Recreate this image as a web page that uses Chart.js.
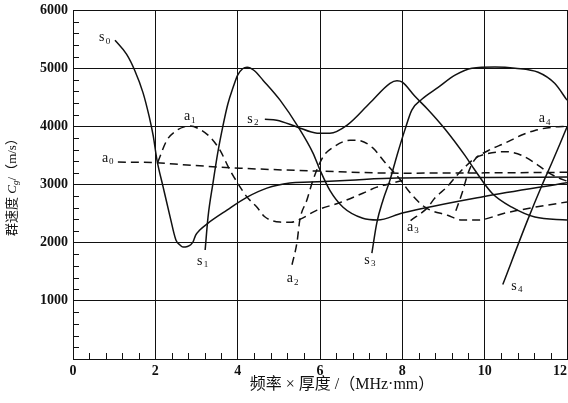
<!DOCTYPE html>
<html>
<head>
<meta charset="utf-8">
<script src="https://cdn.jsdelivr.net/npm/chart.js@4/dist/chart.umd.min.js"></script>
<style>
  html, body { margin: 0; padding: 0; background: #fff; }
  #wrap { width: 568px; height: 403px; }
</style>
</head>
<body>
<div id="wrap"><canvas id="c" width="568" height="403"></canvas></div>
<script>
// Group velocity dispersion curves of Lamb wave modes (symmetric s, antisymmetric a)
// x: frequency × thickness (MHz·mm), y: group velocity (m/s)

const xTicks = [0, 2, 4, 6, 8, 10, 12];
const yTicks = [1000, 2000, 3000, 4000, 5000, 6000];

const s0X = [1.02, 1.3, 1.5, 1.7, 1.85, 1.95, 2.04, 2.19, 2.36, 2.5, 2.6, 2.67, 2.78, 2.86, 2.92, 2.98, 3.08, 3.28, 3.74, 4.23, 4.71, 5.27, 5.76, 6.73, 7.87, 10, 12];
const s0Y = [5480, 5240, 4960, 4580, 4170, 3830, 3420, 2955, 2440, 2045, 1960, 1925, 1935, 1965, 2020, 2130, 2216, 2337, 2560, 2783, 2938, 3024, 3041, 3075, 3110, 3120, 3130];

const s1X = [3.21, 3.28, 3.4, 3.52, 3.64, 3.76, 3.89, 4.0, 4.12, 4.23, 4.4, 4.62, 5.03, 5.47, 5.83, 6.0, 6.24, 6.56, 7.04, 7.4, 8.0, 9.96, 12];
const s1Y = [1873, 2440, 3024, 3560, 4000, 4380, 4670, 4880, 4990, 5017, 4960, 4790, 4450, 3990, 3540, 3250, 2900, 2610, 2420, 2390, 2510, 2790, 3030];

const s2X = [4.66, 4.95, 5.44, 5.93, 6.24, 6.66, 7.21, 7.7, 7.87, 8.0, 8.3, 8.62, 9.04, 9.52, 9.76, 10.18, 10.66, 11.22, 12];
const s2Y = [4120, 4105, 3990, 3883, 3880, 4020, 4400, 4740, 4785, 4760, 4520, 4290, 3950, 3500, 3250, 2850, 2610, 2440, 2390];

const s3X = [7.26, 7.38, 7.53, 7.7, 7.87, 8.06, 8.23, 8.48, 8.87, 9.28, 9.69, 10.25, 10.74, 11.3, 11.7, 12];
const s3Y = [1820, 2340, 2730, 3075, 3500, 3935, 4280, 4470, 4670, 4880, 5000, 5020, 5000, 4930, 4740, 4450];

const s4X = [10.44, 11.05, 11.4, 11.63, 11.83, 12];
const s4Y = [1280, 2400, 3000, 3370, 3700, 3990];

const a0X = [1.09, 2.0, 2.77, 4.06, 6.0, 7.94, 10, 12];
const a0Y = [3385, 3375, 3335, 3280, 3230, 3195, 3200, 3210];

const a1X = [2.06, 2.28, 2.53, 2.72, 2.85, 3.05, 3.33, 3.57, 3.81, 4.0, 4.23, 4.47, 4.65, 5.03, 5.3, 5.51, 5.93, 6.49, 7.04, 7.38, 7.63, 8.0];
const a1Y = [3385, 3760, 3935, 3995, 4005, 3960, 3815, 3590, 3250, 3024, 2783, 2610, 2450, 2354, 2350, 2400, 2560, 2690, 2850, 2955, 3000, 3070];

const a2X = [5.32, 5.44, 5.51, 5.68, 5.83, 6.07, 6.32, 6.73, 6.9, 7.29, 7.53, 8.0, 8.14, 8.55, 9.1, 9.45, 9.84, 10.5, 11.22, 12];
const a2Y = [1620, 2000, 2390, 2730, 3075, 3470, 3640, 3760, 3760, 3625, 3420, 3040, 2900, 2610, 2470, 2390, 2390, 2510, 2610, 2700];

const a3X = [8.2, 8.6, 8.79, 9.08, 9.33, 9.52, 9.76, 10.0, 10.5, 10.9, 11.3, 11.54, 11.8, 12];
const a3Y = [2380, 2594, 2766, 2955, 3160, 3300, 3450, 3520, 3565, 3500, 3330, 3210, 3110, 3060];

const a4X = [9.3, 9.45, 9.6, 9.75, 10.08, 10.49, 10.9, 11.22, 11.7, 12];
const a4Y = [2550, 2850, 3200, 3420, 3580, 3710, 3850, 3930, 3990, 4000];

// mode name, subscript and the data point its label sits at
const modeNames = ['s', 's', 's', 's', 's', 'a', 'a', 'a', 'a', 'a'];
const modeIndex = ['0', '1', '2', '3', '4', '0', '1', '2', '3', '4'];
const labelX = [0.70, 3.08, 4.30, 7.14, 10.71, 0.78, 2.77, 5.27, 8.19, 11.39];
const labelY = [5530, 1685, 4125, 1700, 1255, 3455, 4175, 1390, 2270, 4140];

const zip = (xs, ys) => xs.map((x, i) => ({ x: x, y: ys[i] }));

const solid = (xs, ys) => ({
  data: zip(xs, ys), borderColor: '#111', borderWidth: 1.5,
  pointRadius: 0, fill: false, cubicInterpolationMode: 'monotone'
});
const dashed = (xs, ys) => Object.assign(solid(xs, ys), { borderDash: [8, 5] });

const serif = '"Liberation Serif", "Noto Sans CJK SC", serif';

const decorations = {
  id: 'decorations',
  afterDraw(chart) {
    const { ctx, chartArea: a, scales: { x, y } } = chart;
    ctx.save();
    // minor ticks inside the frame
    ctx.strokeStyle = '#111';
    ctx.lineWidth = 1;
    ctx.beginPath();
    for (let v = 200; v < 6000; v += 200) {
      if (v % 1000 === 0) continue;
      const py = Math.round(y.getPixelForValue(v)) + 0.5;
      ctx.moveTo(a.left, py); ctx.lineTo(a.left + 6, py);
    }
    for (let k = 1; k < 30; k++) {
      if (k % 5 === 0) continue;
      const px = Math.round(x.getPixelForValue(k * 0.4)) + 0.5;
      ctx.moveTo(px, a.bottom); ctx.lineTo(px, a.bottom - 6);
    }
    ctx.stroke();

    // x tick labels, kept inside the canvas at both ends
    ctx.fillStyle = '#111';
    ctx.font = 'bold 14px ' + serif;
    ctx.textAlign = 'center';
    ctx.textBaseline = 'top';
    xTicks.forEach(v => {
      const t = String(v);
      const w = ctx.measureText(t).width;
      let px = x.getPixelForValue(v);
      px = Math.max(w / 2 + 1, Math.min(chart.width - w / 2 - 1, px));
      ctx.fillText(t, px, a.bottom + 5);
    });

    // curve labels
    ctx.textBaseline = 'middle';
    for (let i = 0; i < modeNames.length; i++) {
      const px = x.getPixelForValue(labelX[i]);
      const py = y.getPixelForValue(labelY[i]);
      ctx.font = '14px ' + serif;
      ctx.textAlign = 'center';
      ctx.fillText(modeNames[i], px, py);
      ctx.font = '9px ' + serif;
      ctx.textAlign = 'left';
      ctx.fillText(modeIndex[i], px + 4, py + 4);
    }

    // x axis title
    ctx.font = '16px ' + serif;
    ctx.textAlign = 'center';
    ctx.textBaseline = 'middle';
    ctx.fillText('频率 × 厚度 /（MHz·mm）', 342, 385);

    // y axis title, rotated
    ctx.translate(13, 184);
    ctx.rotate(-Math.PI / 2);
    const parts = [
      ['群速度 ', '13px ' + serif, 0],
      ['C', 'italic 13px ' + serif, 0],
      ['g', 'italic 9px ' + serif, 3],
      ['/（m/s）', '13px ' + serif, 0]
    ];
    let total = 0;
    parts.forEach(p => { ctx.font = p[1]; total += ctx.measureText(p[0]).width; });
    let cx = -total / 2;
    ctx.textAlign = 'left';
    parts.forEach(p => {
      ctx.font = p[1];
      ctx.fillText(p[0], cx, p[2]);
      cx += ctx.measureText(p[0]).width;
    });
    ctx.restore();
  }
};

new Chart(document.getElementById('c'), {
  type: 'line',
  data: {
    datasets: [
      solid(s0X, s0Y), solid(s1X, s1Y), solid(s2X, s2Y), solid(s3X, s3Y), solid(s4X, s4Y),
      dashed(a0X, a0Y), dashed(a1X, a1Y), dashed(a2X, a2Y), dashed(a3X, a3Y), dashed(a4X, a4Y)
    ]
  },
  options: {
    responsive: false,
    animation: false,
    devicePixelRatio: 1,
    layout: { padding: { top: 10, right: 1, left: 0, bottom: 0 } },
    plugins: { legend: { display: false }, tooltip: { enabled: false } },
    scales: {
      x: {
        type: 'linear', min: 0, max: 12,
        afterBuildTicks: s => { s.ticks = xTicks.map(v => ({ value: v })); },
        afterFit: s => { s.height = 44; s.paddingLeft = 0; s.paddingRight = 0; },
        grid: { color: '#111', lineWidth: 1, drawTicks: false },
        border: { display: true, color: '#111', width: 1 },
        ticks: { display: false }
      },
      y: {
        type: 'linear', min: 0, max: 6000,
        afterBuildTicks: s => { s.ticks = [0].concat(yTicks).map(v => ({ value: v })); },
        afterFit: s => { s.width = 73; s.paddingTop = 0; s.paddingBottom = 0; },
        grid: { color: '#111', lineWidth: 1, drawTicks: false },
        border: { display: true, color: '#111', width: 1 },
        ticks: {
          padding: 5, color: '#111',
          font: { family: serif, size: 14, weight: 'bold' },
          callback: v => (v === 0 ? '' : String(v))
        }
      }
    }
  },
  plugins: [decorations]
});
</script>
</body>
</html>
